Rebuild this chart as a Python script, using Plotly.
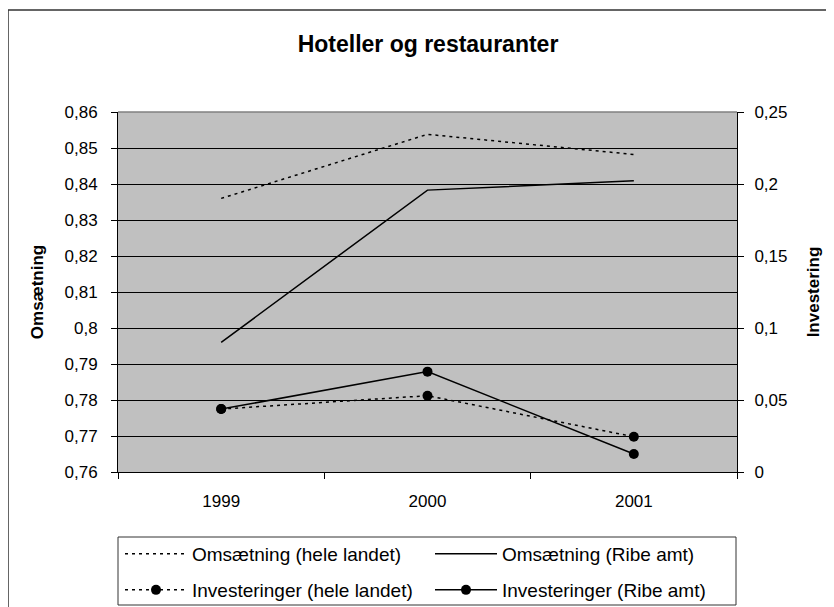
import plotly.graph_objects as go

years = ["1999", "2000", "2001"]
oms_hele = [0.8360, 0.8538, 0.8482]
oms_ribe = [0.7960, 0.8383, 0.8409]
inv_hele = [0.0437, 0.0530, 0.0245]
inv_ribe = [0.0437, 0.0697, 0.0125]

left_ticks = [0.76, 0.77, 0.78, 0.79, 0.80, 0.81, 0.82, 0.83, 0.84, 0.85, 0.86]
left_text = ["0,76", "0,77", "0,78", "0,79", "0,8", "0,81", "0,82", "0,83", "0,84", "0,85", "0,86"]
right_ticks = [0, 0.05, 0.10, 0.15, 0.20, 0.25]
right_text = ["0", "0,05", "0,1", "0,15", "0,2", "0,25"]

FONT = "Liberation Sans, Arial, sans-serif"
FS = 17

# the page body adds an 8px offset; layout coordinates below are figure pixels
OFF = 8
W, H = 834 - OFF, 607 - OFF
ml, mt = 118 - OFF, 112 - OFF
pw, ph = 619, 360
mr, mb = W - ml - pw, H - mt - ph


def px_x(p):
    return (p - OFF - ml) / pw


def px_y(p):
    return (H - mb - (p - OFF)) / ph


fig = go.Figure()
fig.add_trace(go.Scatter(x=years, y=oms_hele, name="Omsætning (hele landet)", mode="lines",
                         legend="legend",
                         line=dict(color="black", width=1.5, dash="3px,4px")))
fig.add_trace(go.Scatter(x=years, y=oms_ribe, name="Omsætning (Ribe amt)", mode="lines",
                         legend="legend",
                         line=dict(color="black", width=1.5)))
fig.add_trace(go.Scatter(x=years, y=inv_hele, name="Investeringer (hele landet)", mode="lines+markers",
                         yaxis="y2", legend="legend2",
                         line=dict(color="black", width=1.5, dash="3px,4px"),
                         marker=dict(color="black", size=10, symbol="circle")))
fig.add_trace(go.Scatter(x=years, y=inv_ribe, name="Investeringer (Ribe amt)", mode="lines+markers",
                         yaxis="y2", legend="legend2",
                         line=dict(color="black", width=1.5),
                         marker=dict(color="black", size=10, symbol="circle")))

legend_common = dict(orientation="h", x=px_x(120), xanchor="left", yanchor="middle",
                     borderwidth=0, bgcolor="rgba(0,0,0,0)",
                     entrywidth=233, entrywidthmode="pixels",
                     font=dict(size=19, family=FONT), itemwidth=62)

fig.update_layout(
    width=W, height=H,
    margin=dict(l=ml, r=mr, t=mt, b=mb, pad=0, autoexpand=False),
    paper_bgcolor="white",
    plot_bgcolor="#C0C0C0",
    font=dict(family=FONT, size=FS, color="black"),
    title=dict(text="<b>Hoteller og restauranter</b>", x=px_x(428), xanchor="center",
               xref="paper",
               y=1 - (44 - OFF) / H, yanchor="middle", font=dict(size=23, family=FONT)),
    showlegend=True,
    legend=dict(y=px_y(554), **legend_common),
    legend2=dict(y=px_y(590), **legend_common),
    xaxis=dict(type="category", showgrid=False, showline=True, linecolor="black", linewidth=1,
               ticks="outside", ticklen=6, tickcolor="black", tickson="boundaries",
               ticklabelstandoff=14, automargin=False,
               range=[-0.5, 2.5], fixedrange=True),
    yaxis=dict(range=[0.76, 0.86], tickvals=left_ticks, ticktext=left_text,
               showgrid=True, gridcolor="black", gridwidth=1,
               showline=True, linecolor="black", linewidth=1,
               ticks="outside", ticklen=6, tickcolor="black",
               ticklabelstandoff=10, automargin=False,
               zeroline=False,
               title=dict(text="<b>Omsætning</b>", font=dict(size=FS, family=FONT), standoff=16)),
    yaxis2=dict(range=[0, 0.25], tickvals=right_ticks, ticktext=right_text,
                overlaying="y", side="right", showgrid=False,
                showline=True, linecolor="black", linewidth=1,
                ticks="outside", ticklen=6, tickcolor="black", zeroline=False,
                ticklabelstandoff=7, automargin=False,
                title=dict(text="<b>Investering</b>", font=dict(size=FS, family=FONT), standoff=20)),
    shapes=[
        dict(type="rect", xref="paper", yref="paper",
             x0=px_x(8), x1=px_x(850), y0=px_y(620), y1=px_y(10),
             line=dict(color="#333333", width=1.5), fillcolor="rgba(0,0,0,0)", layer="below"),
        dict(type="rect", xref="paper", yref="paper",
             x0=px_x(118), x1=px_x(736), y0=px_y(605), y1=px_y(537),
             line=dict(color="#333333", width=1), fillcolor="white", layer="below"),
        dict(type="line", xref="paper", yref="paper", x0=0, x1=1, y0=1, y1=1,
             line=dict(color="#808080", width=1.5), layer="above"),
    ],
)

fig.write_html("out.html")
